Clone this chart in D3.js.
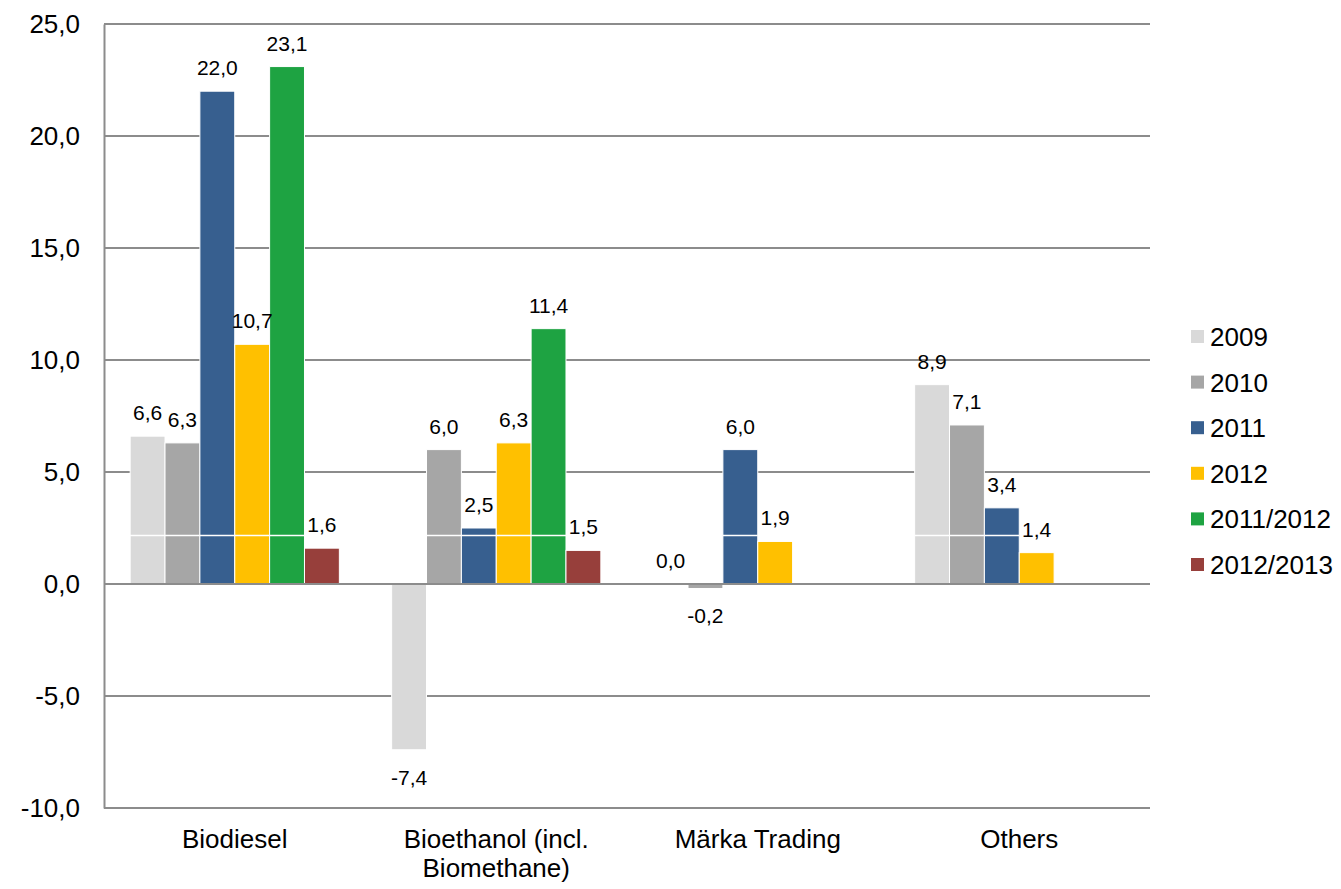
<!DOCTYPE html>
<html>
<head>
<meta charset="utf-8">
<script src="https://cdn.jsdelivr.net/npm/d3@7"></script>
<style>
  body { margin: 0; background: #fff; }
  text { font-family: "Liberation Sans", Arial, sans-serif; fill: #000; }
</style>
</head>
<body>
<div class="chart"></div>
<script>
// data
var categories = ["Biodiesel", "Bioethanol (incl. Biomethane)", "Märka Trading", "Others"];
var catLines = [["Biodiesel"], ["Bioethanol (incl.", "Biomethane)"], ["Märka Trading"], ["Others"]];
var series = ["2009", "2010", "2011", "2012", "2011/2012", "2012/2013"];
var v2009 = [6.6, -7.4, 0.0, 8.9];
var v2010 = [6.3, 6.0, -0.2, 7.1];
var v2011 = [22.0, 2.5, 6.0, 3.4];
var v2012 = [10.7, 6.3, 1.9, 1.4];
var v20112012 = [23.1, 11.4, null, null];
var v20122013 = [1.6, 1.5, null, null];
var yTicks = [-10, -5, 0, 5, 10, 15, 20, 25];

var colors = ["#d9d9d9", "#a6a6a6", "#375f8f", "#ffc000", "#1ea342", "#973f3b"];
var values = [v2009, v2010, v2011, v2012, v20112012, v20122013];

//svg dims
var width = 1341;
var height = 889;
var plotL = 104, plotR = 1150, plotT = 24, plotB = 808;

var svg = d3.select(".chart")
            .append("svg")
            .attr("width", width)
            .attr("height", height);

//comma decimals, plain hyphen for minus
var fmt = d => d3.format(".1f")(d).replace(".", ",").replace("\u2212", "-");

//scales
var xScale = d3.scaleBand()
               .domain(categories)
               .range([plotL, plotR])
               .paddingInner(0.2)
               .paddingOuter(0.1);
var xSub = d3.scaleBand()
             .domain(series)
             .range([0, xScale.bandwidth()]);
var yScale = d3.scaleLinear()
               .domain([-10, 25])
               .range([plotB, plotT]);

//gridlines
svg.append("g")
   .selectAll("line")
   .data(yTicks)
   .enter()
   .append("line")
   .attr("x1", plotL)
   .attr("x2", plotR)
   .attr("y1", d => yScale(d))
   .attr("y2", d => yScale(d))
   .attr("stroke", "#8c8c8c")
   .attr("stroke-width", 2);

//y axis
var yAxis = d3.axisLeft(yScale)
              .tickValues(yTicks)
              .tickFormat(fmt)
              .tickSize(0)
              .tickPadding(24);
svg.append("g")
   .attr("transform", `translate(${plotL}, 0)`)
   .call(yAxis)
   .call(g => g.select(".domain").attr("stroke", "#8c8c8c").attr("stroke-width", 2))
   .call(g => g.selectAll("text").style("font-size", "26px").style("font-family", "Liberation Sans, Arial, sans-serif").attr("fill", "#000"));

//flat table for bars
var table = [];
categories.forEach((c, ci) => {
  series.forEach((s, si) => {
    var v = values[si][ci];
    if (v !== null) table.push({cat: c, ser: s, si: si, value: v});
  });
});

//bars
svg.append("g")
   .selectAll("rect")
   .data(table)
   .enter()
   .append("rect")
   .attr("x", d => xScale(d.cat) + xSub(d.ser))
   .attr("width", xSub.bandwidth())
   .attr("y", d => yScale(Math.max(0, d.value)))
   .attr("height", d => Math.abs(yScale(d.value) - yScale(0)))
   .attr("fill", d => colors[d.si])
   .attr("stroke", "#fff")
   .attr("stroke-width", 1);

//thin white seam across the taller bars
var seam = 2.17;
svg.append("g")
   .selectAll("line")
   .data(table.filter(d => d.value > seam))
   .enter()
   .append("line")
   .attr("x1", d => xScale(d.cat) + xSub(d.ser))
   .attr("x2", d => xScale(d.cat) + xSub(d.ser) + xSub.bandwidth())
   .attr("y1", yScale(seam))
   .attr("y2", yScale(seam))
   .attr("stroke", "#fff")
   .attr("stroke-width", 1.5);

//zero line
svg.append("line")
   .attr("x1", plotL)
   .attr("x2", plotR)
   .attr("y1", yScale(0))
   .attr("y2", yScale(0))
   .attr("stroke", "#8c8c8c")
   .attr("stroke-width", 2);

//data labels
svg.append("g")
   .selectAll("text")
   .data(table)
   .enter()
   .append("text")
   .attr("x", d => xScale(d.cat) + xSub(d.ser) + xSub.bandwidth() / 2)
   .attr("y", d => d.value >= 0 ? yScale(d.value) - 16 : yScale(d.value) + 35)
   .attr("text-anchor", "middle")
   .style("font-size", "21px")
   .text(d => fmt(d.value));

//category labels
var cats = svg.append("g")
              .selectAll("text")
              .data(categories)
              .enter()
              .append("text")
              .attr("x", d => xScale(d) + xScale.bandwidth() / 2)
              .attr("y", 848)
              .attr("text-anchor", "middle")
              .style("font-size", "26px");
cats.selectAll("tspan")
    .data((d, i) => catLines[i])
    .enter()
    .append("tspan")
    .attr("x", function() { return d3.select(this.parentNode).attr("x"); })
    .attr("dy", (d, i) => i === 0 ? 0 : 29)
    .text(d => d);

//legend
var legend = svg.append("g")
                .attr("transform", "translate(1191, 337)");
var items = legend.selectAll("g")
                  .data(series)
                  .enter()
                  .append("g")
                  .attr("transform", (d, i) => `translate(0, ${i * 45.6})`);
items.append("rect")
     .attr("x", 0)
     .attr("y", -7)
     .attr("width", 13)
     .attr("height", 13)
     .attr("fill", (d, i) => colors[i]);
items.append("text")
     .attr("x", 19)
     .attr("y", 9)
     .style("font-size", "26px")
     .text(d => d);
</script>
</body>
</html>
